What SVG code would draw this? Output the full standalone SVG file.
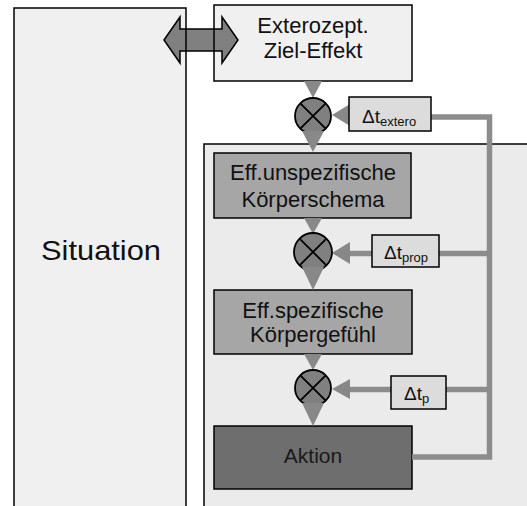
<svg xmlns="http://www.w3.org/2000/svg" width="527" height="506" viewBox="0 0 527 506">
<style>
text{font-family:"Liberation Sans",Arial,sans-serif;fill:#111}
.box{stroke:#000;stroke-width:1.5}
.tri{fill:#888}
.fb{fill:none;stroke:#8c8c8c;stroke-width:5.5}
.circ{fill:#808080;stroke:#000;stroke-width:1.8}
.x{stroke:#000;stroke-width:1.8}
.big{font-size:22px}
.dt{font-size:19px}
.sub{font-size:13px}
</style>
<rect width="527" height="506" fill="#fff"/>
<g id="region-right">
<rect x="204" y="144" width="340" height="380" fill="#ebebeb" stroke="#000" stroke-width="1.5"/>
</g>
<g id="situation">
<rect x="14" y="8" width="172" height="520" fill="#f0f0f0"/>
<text x="41" y="260" font-size="28" textLength="120" lengthAdjust="spacingAndGlyphs">Situation</text>
</g>
<g id="ziel-effekt">
<rect x="214" y="5" width="198" height="76" fill="#f0f0f0"/>
<text class="big" x="313" y="33" text-anchor="middle">Exterozept.</text>
<text class="big" x="313" y="58" text-anchor="middle">Ziel-Effekt</text>
</g>
<g id="double-arrow">
<path d="M164,40 L180,17 L180,29 L222,29 L222,17 L238,40 L222,63 L222,51 L180,51 L180,63 Z" fill="#808080" stroke="#000" stroke-width="1.5" stroke-linejoin="miter"/>
</g>
<g id="outlines">
<rect x="14" y="8" width="172" height="520" fill="none" class="box"/>
<rect x="214" y="5" width="198" height="76" fill="none" class="box"/>
</g>
<g id="koerperschema">
<rect class="box" x="214" y="153" width="197" height="65" fill="#a6a6a6"/>
<text class="big" x="313" y="180" text-anchor="middle">Eff.unspezifische</text>
<text class="big" x="313" y="207" text-anchor="middle">Körperschema</text>
</g>
<g id="koerpergefuehl">
<rect class="box" x="214" y="290" width="198" height="64" fill="#a6a6a6"/>
<text class="big" x="313" y="318" text-anchor="middle">Eff.spezifische</text>
<text class="big" x="313" y="342" text-anchor="middle">Körpergefühl</text>
</g>
<g id="aktion">
<rect class="box" x="214" y="426" width="198" height="63" fill="#6e6e6e"/>
<text x="313" y="463" font-size="21" text-anchor="middle" style="fill:#1a1a1a">Aktion</text>
</g>
<g id="connectors">
<path class="fb" d="M412,457 H489.5 V117 H431 M489.5,253.5 H439 M489.5,389.5 H446"/>
<path class="fb" d="M349,253.5 H372 M349,389.5 H391"/>
<polygon class="tri" points="304,81 322,81 313,98"/>
<polygon class="tri" points="304,218 322,218 313,234"/>
<polygon class="tri" points="304,354 322,354 313,370"/>
<polygon class="tri" points="350,104 350,126 332,115"/>
<polygon class="tri" points="350,242 350,264 332,253"/>
<polygon class="tri" points="350,379 350,399 332,389"/>
</g>
<g id="mixer-1">
<circle class="circ" cx="313" cy="116" r="18"/>
<path class="x" d="M300.3,103.3 L325.7,128.7 M325.7,103.3 L300.3,128.7"/>
<polygon class="tri" points="302,131 324,131 313,152"/>
</g>
<g id="mixer-2">
<circle class="circ" cx="313" cy="252" r="19"/>
<path class="x" d="M299.6,238.6 L326.4,265.4 M326.4,238.6 L299.6,265.4"/>
<polygon class="tri" points="302,267 324,267 313,290"/>
</g>
<g id="mixer-3">
<circle class="circ" cx="313" cy="388" r="18"/>
<path class="x" d="M300.3,375.3 L325.7,400.7 M325.7,375.3 L300.3,400.7"/>
<polygon class="tri" points="302,403 324,403 313,426"/>
</g>
<g id="dt-extero">
<rect class="box" x="349" y="97" width="82" height="34" fill="#dcdcdc"/>
<text class="dt" x="362" y="123">Δt<tspan class="sub" dy="3">extero</tspan></text>
</g>
<g id="dt-prop">
<rect class="box" x="372" y="235" width="67" height="32" fill="#dcdcdc"/>
<text class="dt" x="384" y="259">Δt<tspan class="sub" dy="3">prop</tspan></text>
</g>
<g id="dt-p">
<rect class="box" x="391" y="376" width="55" height="33" fill="#dcdcdc"/>
<text class="dt" x="404" y="400">Δt<tspan class="sub" dy="3">p</tspan></text>
</g>
</svg>
